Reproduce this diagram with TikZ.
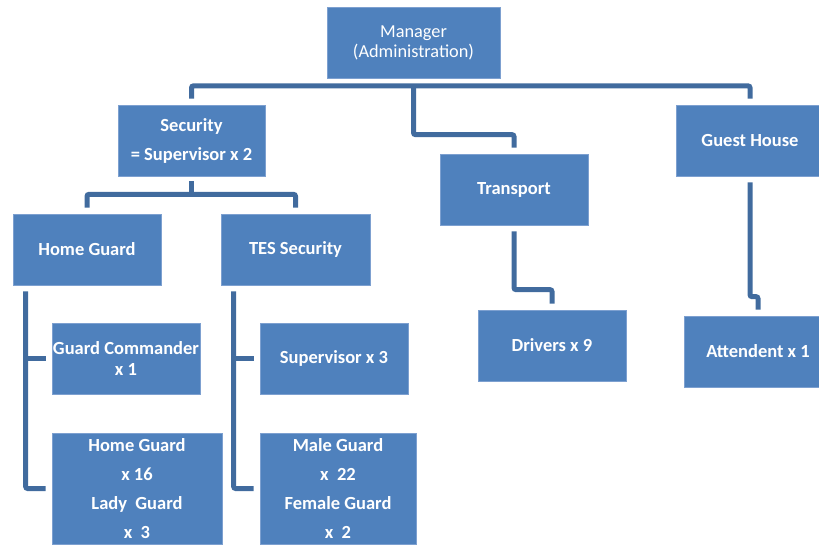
\documentclass[tikz,border=0pt]{standalone}
\usepackage{fontspec}
\setmainfont{Carlito}
\definecolor{boxfill}{RGB}{79,129,189}
\definecolor{boxline}{RGB}{125,160,208}
\definecolor{connc}{RGB}{65,107,158}
\begin{document}
\begin{tikzpicture}[x=1pt,y=1pt,
  box/.style={rectangle, fill=boxfill, draw=boxline, line width=0.7pt, text=white,
    align=center, inner sep=0pt, font=\fontsize{18.5}{21}\selectfont\bfseries},
  conn/.style={draw=connc, line width=5pt, rounded corners=2pt}]
\useasboundingbox (0,0) rectangle (819,-544);
\node[box, font=\fontsize{18.3}{20}\selectfont, minimum width=173, minimum height=71] (mgr) at (413.5,-42.5) {Manager\\(Administration)};
\node[box, minimum width=147, minimum height=71] (sec) at (191.5,-140.5) {Security\\[8pt]= Supervisor x 2};
\node[box, minimum width=148, minimum height=71] (trans) at (514,-189.5) {Transport};
\node[box, minimum width=148, minimum height=71] (guest) at (750,-140.5) {Guest House};
\node[box, minimum width=148, minimum height=71] (homeg) at (87,-249.5) {Home Guard};
\node[box, minimum width=149, minimum height=71] (tes) at (295.5,-249.5) {TES Security};
\node[box, minimum width=148, minimum height=71] (gc) at (126,-358.5) {Guard Commander\\x 1};
\node[box, minimum width=148, minimum height=71] (sup) at (334,-358.5) {Supervisor x 3};
\node[box, minimum width=170, minimum height=111] (hgb) at (137,-488.5) {Home Guard\\[8pt]x 16\\[8pt]Lady~ Guard\\[8pt]x~ 3};
\node[box, minimum width=156, minimum height=111] (mgb) at (338,-488.5) {Male Guard\\[8pt]x~ 22\\[8pt]Female Guard\\[8pt]x~ 2};
\node[box, minimum width=148, minimum height=71] (drv) at (552,-345.5) {Drivers x 9};
\node[box, minimum width=148, minimum height=71] (att) at (758,-351.5) {Attendent x 1};
% connectors
\draw[conn] ([yshift=6pt]sec.north) |- ([yshift=-7.5pt]mgr.south) -| ([yshift=6pt]guest.north);
\draw[conn] ([yshift=-7.5pt]mgr.south) |- ([yshift=19pt]trans.north) -- ([yshift=6pt]trans.north);
\draw[conn] ([yshift=-5pt]sec.south) -- ([yshift=-18pt]sec.south);
\draw[conn] ([yshift=6pt]homeg.north) |- ([yshift=-18pt]sec.south) -| ([yshift=6pt]tes.north);
\coordinate (hgl) at ([xshift=13pt,yshift=-6pt]homeg.south west);
\coordinate (tesl) at ([xshift=13pt,yshift=-6pt]tes.south west);
\draw[conn] (hgl) |- ([xshift=-6pt]hgb.west);
\draw[conn] ([xshift=-6pt]gc.west) -- (gc.west -| hgl);
\draw[conn] (tesl) |- ([xshift=-6pt]mgb.west);
\draw[conn] ([xshift=-6pt]sup.west) -- (sup.west -| tesl);
\draw[conn] ([yshift=-6pt]trans.south) |- ([yshift=20pt]drv.north) -- ([yshift=6pt]drv.north);
\draw[conn] ([yshift=-6pt]guest.south) |- ([yshift=19pt]att.north) -- ([yshift=6pt]att.north);
\end{tikzpicture}
\end{document}
